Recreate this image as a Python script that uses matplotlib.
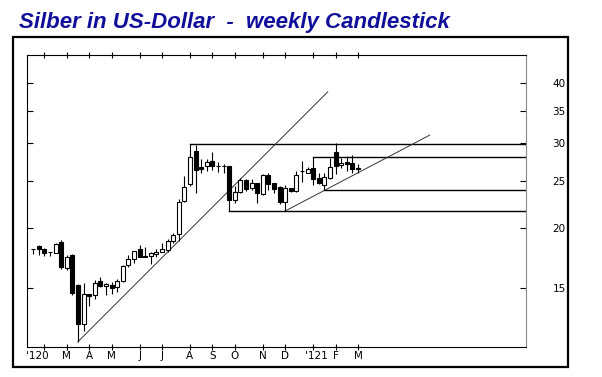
import numpy as np
import matplotlib.pyplot as plt
from matplotlib.patches import Rectangle
from matplotlib.ticker import FixedLocator, NullLocator, FixedFormatter
from matplotlib.transforms import blended_transform_factory

# weekly candles, silver in USD (Jan 2020 - Mar 2021)
opens = [18.09, 18.33, 18.07, 17.77, 17.75, 18.66, 16.53, 17.55, 15.20, 12.59,
         14.54, 14.49, 15.49, 15.15, 15.20, 15.03, 15.46, 16.77, 17.20, 18.04,
         17.45, 17.47, 17.64, 17.83, 18.02, 18.75, 19.37, 22.75, 24.64, 28.91,
         26.74, 26.93, 27.60, 26.94, 26.93, 26.87, 22.85, 23.78, 25.16, 24.17,
         24.76, 23.52, 25.71, 24.76, 24.27, 22.67, 24.17, 23.89, 26.23, 26.05,
         26.65, 25.44, 24.56, 25.46, 28.82, 27.03, 27.39, 27.33, 26.65]
highs = [18.11, 18.42, 18.13, 17.81, 18.62, 18.86, 17.55, 17.64, 15.25, 15.35,
         14.54, 15.57, 15.82, 15.32, 15.44, 15.62, 16.73, 17.55, 17.89, 18.42,
         18.27, 17.81, 18.07, 18.57, 18.98, 19.48, 23.02, 25.64, 29.90, 29.76,
         27.89, 27.89, 28.82, 27.49, 27.23, 26.97, 24.50, 25.36, 25.22, 25.22,
         24.80, 25.95, 26.05, 24.76, 24.50, 24.56, 24.17, 26.33, 27.56, 26.74,
         28.13, 25.98, 25.98, 27.96, 30.09, 27.92, 28.29, 28.36, 27.16]
lows = [17.64, 17.55, 17.47, 17.47, 17.75, 16.39, 16.37, 14.49, 11.58, 12.19,
        13.74, 14.21, 15.03, 14.49, 14.56, 14.70, 15.42, 16.57, 16.89, 17.36,
        17.36, 16.81, 17.36, 17.78, 17.81, 18.64, 18.77, 22.64, 24.40, 23.60,
        26.02, 26.27, 26.39, 26.14, 26.05, 21.68, 22.53, 23.67, 23.86, 24.01,
        22.56, 23.41, 24.01, 23.63, 22.42, 21.68, 23.78, 23.78, 24.95, 25.98,
        24.56, 24.64, 23.98, 25.28, 25.89, 26.65, 26.27, 26.05, 26.08]
closes = [18.04, 18.09, 17.75, 17.81, 18.50, 16.60, 17.37, 14.65, 12.59, 14.56,
          14.42, 15.32, 15.15, 15.27, 14.96, 15.52, 16.69, 17.20, 17.89, 17.41,
          17.39, 17.70, 17.77, 18.04, 18.77, 19.32, 22.67, 24.29, 28.13, 26.39,
          26.56, 27.47, 26.90, 26.87, 26.87, 22.85, 23.78, 25.16, 24.09, 24.76,
          23.60, 25.71, 24.71, 24.12, 22.67, 24.17, 23.89, 25.77, 26.29, 26.49,
          25.24, 24.76, 25.52, 26.81, 26.87, 27.33, 27.16, 26.54, 26.58]

# horizontal resistance / support levels: (start week, price)
levels = [(28, 29.90), (50, 28.13), (52, 23.98), (35, 21.68)]
# trend lines: (week0, price0, week1, price1)
trends = [(8, 11.58, 52.6, 38.4), (45, 21.68, 70.8, 31.2)]

tick_idx = [2, 6, 10, 14, 19, 23, 28, 32, 36, 41, 45, 50, 54, 58]
label_idx = [0.7, 6, 10, 14, 19, 23, 28, 32, 36, 41, 45, 50.5, 54, 58]
label_txt = ["'120", 'M', 'A', 'M', 'J', 'J', 'A', 'S', 'O', 'N', 'D', "'121", 'F', 'M']
yticks = [15, 20, 25, 30, 35, 40]

W, H = 602, 377
fig = plt.figure(figsize=(W / 100, H / 100), dpi=100)
fig.patch.set_facecolor('white')

# outer frame
fig.patches.append(Rectangle((13 / W, 10 / H), 555 / W, 330 / H, transform=fig.transFigure,
                             fill=False, edgecolor='black', linewidth=1.6))

fig.text(19 / W, 1 - 28 / H, 'Silber in US-Dollar  -  weekly Candlestick',
         fontsize=16, fontweight='bold', fontstyle='italic', color='#10109a',
         family='Liberation Sans', va='baseline', ha='left')

ax = fig.add_axes([27 / W, 30 / H, 499 / W, 292 / H])
ax.set_yscale('log')
ax.set_ylim(11.29, 45.83)
ax.set_xlim(-1.1, 88)

x = np.arange(len(opens))
o = np.array(opens)
c = np.array(closes)
up = c >= o

ax.vlines(x, lows, highs, color='black', linewidth=0.8, zorder=2)
body_lo = np.minimum(o, c)
body_h = np.abs(c - o)
ax.bar(x[up], body_h[up], bottom=body_lo[up], width=0.72, color='white',
       edgecolor='black', linewidth=0.8, zorder=3)
ax.bar(x[~up], body_h[~up], bottom=body_lo[~up], width=0.72, color='black',
       edgecolor='black', linewidth=0.8, zorder=3)

for start, price in levels:
    ax.plot([start, 88], [price, price], color='black', linewidth=1.0, zorder=1)
for x0, p0, x1, p1 in trends:
    ax.plot([x0, x1], [p0, p1], color='#333333', linewidth=0.7, zorder=1)

ax.yaxis.set_major_locator(FixedLocator(yticks))
ax.yaxis.set_minor_locator(NullLocator())
ax.yaxis.set_major_formatter(FixedFormatter([str(v) for v in yticks]))
ax.tick_params(axis='y', which='both', direction='in', left=True, right=True,
               labelleft=False, labelright=True, length=4, width=0.8, pad=19,
               labelsize=7.5)
for lab in ax.get_yticklabels():
    lab.set_family(['Liberation Sans Narrow', 'DejaVu Sans'])

ax.set_xticks(tick_idx)
ax.set_xticklabels([])
ax.tick_params(axis='x', which='both', direction='inout', top=True, bottom=True,
               length=4, width=0.8)
tr = blended_transform_factory(ax.transData, ax.transAxes)
for i, t in zip(label_idx, label_txt):
    ax.text(i, -0.031, t, transform=tr, ha='center', va='center', fontsize=7.5,
            family=['Liberation Sans Narrow', 'DejaVu Sans'])

for s in ['top', 'left', 'bottom']:
    ax.spines[s].set_color('black')
    ax.spines[s].set_linewidth(0.8)
ax.spines['right'].set_color('#888888')
ax.spines['right'].set_linewidth(0.8)

fig.savefig('out.png', dpi=100)
